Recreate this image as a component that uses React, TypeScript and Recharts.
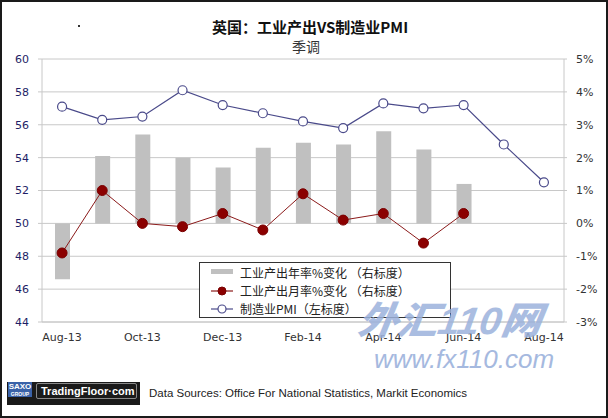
import React from 'react';
import { ComposedChart, Bar, Line, XAxis, YAxis, CartesianGrid } from 'recharts';

const months = ['Aug-13', 'Sep-13', 'Oct-13', 'Nov-13', 'Dec-13', 'Jan-14', 'Feb-14', 'Mar-14', 'Apr-14', 'May-14', 'Jun-14', 'Jul-14', 'Aug-14'];
const pmi = [57.1, 56.3, 56.5, 58.1, 57.2, 56.7, 56.2, 55.8, 57.3, 57.0, 57.2, 54.8, 52.5];
const ipYoY: (number | null)[] = [-1.7, 2.05, 2.7, 2.0, 1.7, 2.3, 2.45, 2.4, 2.8, 2.25, 1.2, null, null];
const ipMoM: (number | null)[] = [-0.9, 1.0, 0.0, -0.1, 0.3, -0.2, 0.9, 0.1, 0.3, -0.6, 0.3, null, null];
const leftTicks = [44, 46, 48, 50, 52, 54, 56, 58, 60];
const rightTicks = [-3, -2, -1, 0, 1, 2, 3, 4, 5];

const titleText = '英国：工业产出VS制造业PMI';
const subtitleText = '季调';
const legendLabels = ['工业产出年率%变化 （右标度）', '工业产出月率%变化 （右标度）', '制造业PMI（左标度）'];
const sourceText = 'Data Sources: Office For National Statistics, Markit Economics';

const data = months.map((m, i) => ({ month: m, pmi: pmi[i], yoy: ipYoY[i], mom: ipMoM[i] }));

const GRID = '#C8C8C8';
const BAR = '#C0C0C0';
const RED = '#8B1A1A';
const NAVY = '#4A4A8A';

const cjk = '"Noto Sans CJK SC", "DejaVu Sans", sans-serif';

export default function App() {
  return (
    <div style={{ position: 'absolute', left: 0, top: 0, width: 608, height: 418, background: '#fff', overflow: 'hidden' }}>
      <div style={{ position: 'absolute', left: 0, top: 0 }}>
        <ComposedChart width={608} height={418} data={data} margin={{ top: 59, right: 0, left: 0, bottom: 66 }}>
          <CartesianGrid yAxisId="left" vertical={false} stroke={GRID} strokeWidth={1} />
          <XAxis
            dataKey="month"
            interval={1}
            tickLine={false}
            tickSize={0}
            tickMargin={11}
            height={30}
            axisLine={{ stroke: GRID }}
            tick={{ fill: '#333', fontSize: 11, fontFamily: 'DejaVu Sans' }}
          />
          <YAxis
            yAxisId="left"
            orientation="left"
            width={42}
            domain={[44, 60]}
            ticks={leftTicks}
            interval={0}
            tickSize={4}
            tickMargin={9}
            axisLine={{ stroke: GRID }}
            tickLine={{ stroke: GRID }}
            tick={{ fill: '#1E1E66', fontSize: 11, fontFamily: 'DejaVu Sans' }}
          />
          <YAxis
            yAxisId="right"
            orientation="right"
            width={44}
            domain={[-3, 5]}
            ticks={rightTicks}
            interval={0}
            tickSize={3}
            tickMargin={9}
            tickFormatter={(v: number) => `${v}%`}
            axisLine={{ stroke: GRID }}
            tickLine={{ stroke: GRID }}
            tick={{ fill: '#333', fontSize: 11, fontFamily: 'DejaVu Sans' }}
          />
          <Bar yAxisId="right" dataKey="yoy" fill={BAR} barSize={15} isAnimationActive={false} />
          <Line
            yAxisId="right"
            dataKey="mom"
            stroke={RED}
            strokeWidth={1}
            dot={{ r: 5, fill: '#8B0000', stroke: '#7A0000', strokeWidth: 1 }}
            isAnimationActive={false}
            connectNulls={false}
          />
          <Line
            yAxisId="left"
            dataKey="pmi"
            stroke={NAVY}
            strokeWidth={1.2}
            dot={{ r: 4.5, fill: '#fff', stroke: NAVY, strokeWidth: 1.2 }}
            isAnimationActive={false}
          />
        </ComposedChart>
      </div>

      {/* Title */}
      <div style={{ position: 'absolute', left: 310, top: 17, transform: 'translateX(-50%)', whiteSpace: 'nowrap', fontFamily: cjk, fontSize: 15, fontWeight: 700, color: '#111', lineHeight: '20px' }}>
        {titleText}
      </div>
      <div style={{ position: 'absolute', left: 306, top: 37, transform: 'translateX(-50%)', whiteSpace: 'nowrap', fontFamily: cjk, fontSize: 14, color: '#333', lineHeight: '18px' }}>
        {subtitleText}
      </div>
      <div style={{ position: 'absolute', left: 78, top: 25, width: 2, height: 2, background: '#333' }} />

      {/* Legend */}
      <div style={{ position: 'absolute', left: 199, top: 262, width: 252, height: 56, border: '1px solid #333', background: '#fff', overflow: 'hidden', boxSizing: 'border-box' }}>
        <svg style={{ position: 'absolute', left: 0, top: 0 }} width={252} height={56}>
          <rect x={11} y={6} width={22} height={5} fill={BAR} />
          <line x1={11} x2={33} y1={28} y2={28} stroke={RED} strokeWidth={1.2} />
          <circle cx={22} cy={28} r={4} fill="#8B0000" stroke="#7A0000" />
          <line x1={11} x2={33} y1={46} y2={46} stroke={NAVY} strokeWidth={1.2} />
          <circle cx={22} cy={46} r={4} fill="#fff" stroke={NAVY} strokeWidth={1.2} />
        </svg>
        {legendLabels.map((t, i) => (
          <div key={t} style={{ position: 'absolute', left: 40, top: [2, 20, 38][i], whiteSpace: 'nowrap', fontFamily: cjk, fontSize: 12, color: '#222', lineHeight: '16px' }}>
            {t}
          </div>
        ))}
      </div>

      {/* Watermark */}
      <div style={{ position: 'absolute', left: 362, top: 296, whiteSpace: 'nowrap', fontFamily: cjk, fontSize: 38, fontWeight: 900, fontStyle: 'italic', color: '#9CB2DC', opacity: 0.85, lineHeight: '44px', transform: 'scaleX(1.05) skewX(-8deg)', transformOrigin: 'left top', pointerEvents: 'none' }}>
        外汇<span style={{ fontFamily: 'Liberation Sans', fontWeight: 700 }}>110</span>网
      </div>
      <div style={{ position: 'absolute', left: 374, top: 344, whiteSpace: 'nowrap', fontFamily: 'Liberation Sans', fontSize: 26, fontStyle: 'italic', color: '#9CB2DC', opacity: 0.9, lineHeight: '30px', pointerEvents: 'none' }}>
        www.fx110.com
      </div>

      {/* Logo */}
      <div style={{ position: 'absolute', left: 7, top: 382, width: 133, height: 23, background: '#1a1a1a' }} />
      <div style={{ position: 'absolute', left: 8, top: 382, width: 24, height: 15, background: '#3A62A8' }} />
      <div style={{ position: 'absolute', left: 8, top: 382, width: 24, textAlign: 'center', fontFamily: 'Liberation Sans', fontWeight: 700, fontSize: 8, color: '#fff', lineHeight: '9px' }}>SAXO</div>
      <div style={{ position: 'absolute', left: 8, top: 391, width: 24, textAlign: 'center', fontFamily: 'Liberation Sans', fontWeight: 700, fontSize: 5, color: '#fff', lineHeight: '6px' }}>GROUP</div>
      <div style={{ position: 'absolute', left: 36, top: 383, width: 101, height: 16, border: '1px solid #888', borderRadius: 2, boxSizing: 'border-box' }} />
      <div style={{ position: 'absolute', left: 41, top: 384, whiteSpace: 'nowrap', fontFamily: 'Liberation Sans', fontWeight: 700, fontSize: 11, color: '#fff', lineHeight: '14px' }}>TradingFloor·com</div>
      <div style={{ position: 'absolute', left: 149, top: 386, whiteSpace: 'nowrap', fontFamily: 'Liberation Sans', fontSize: 11.5, color: '#222', lineHeight: '14px' }}>
        {sourceText}
      </div>

      {/* Frame */}
      <div style={{ position: 'absolute', left: 0, top: 0, width: 608, height: 418, border: '2px solid #1a1a1a', boxSizing: 'border-box', pointerEvents: 'none' }} />
    </div>
  );
}
